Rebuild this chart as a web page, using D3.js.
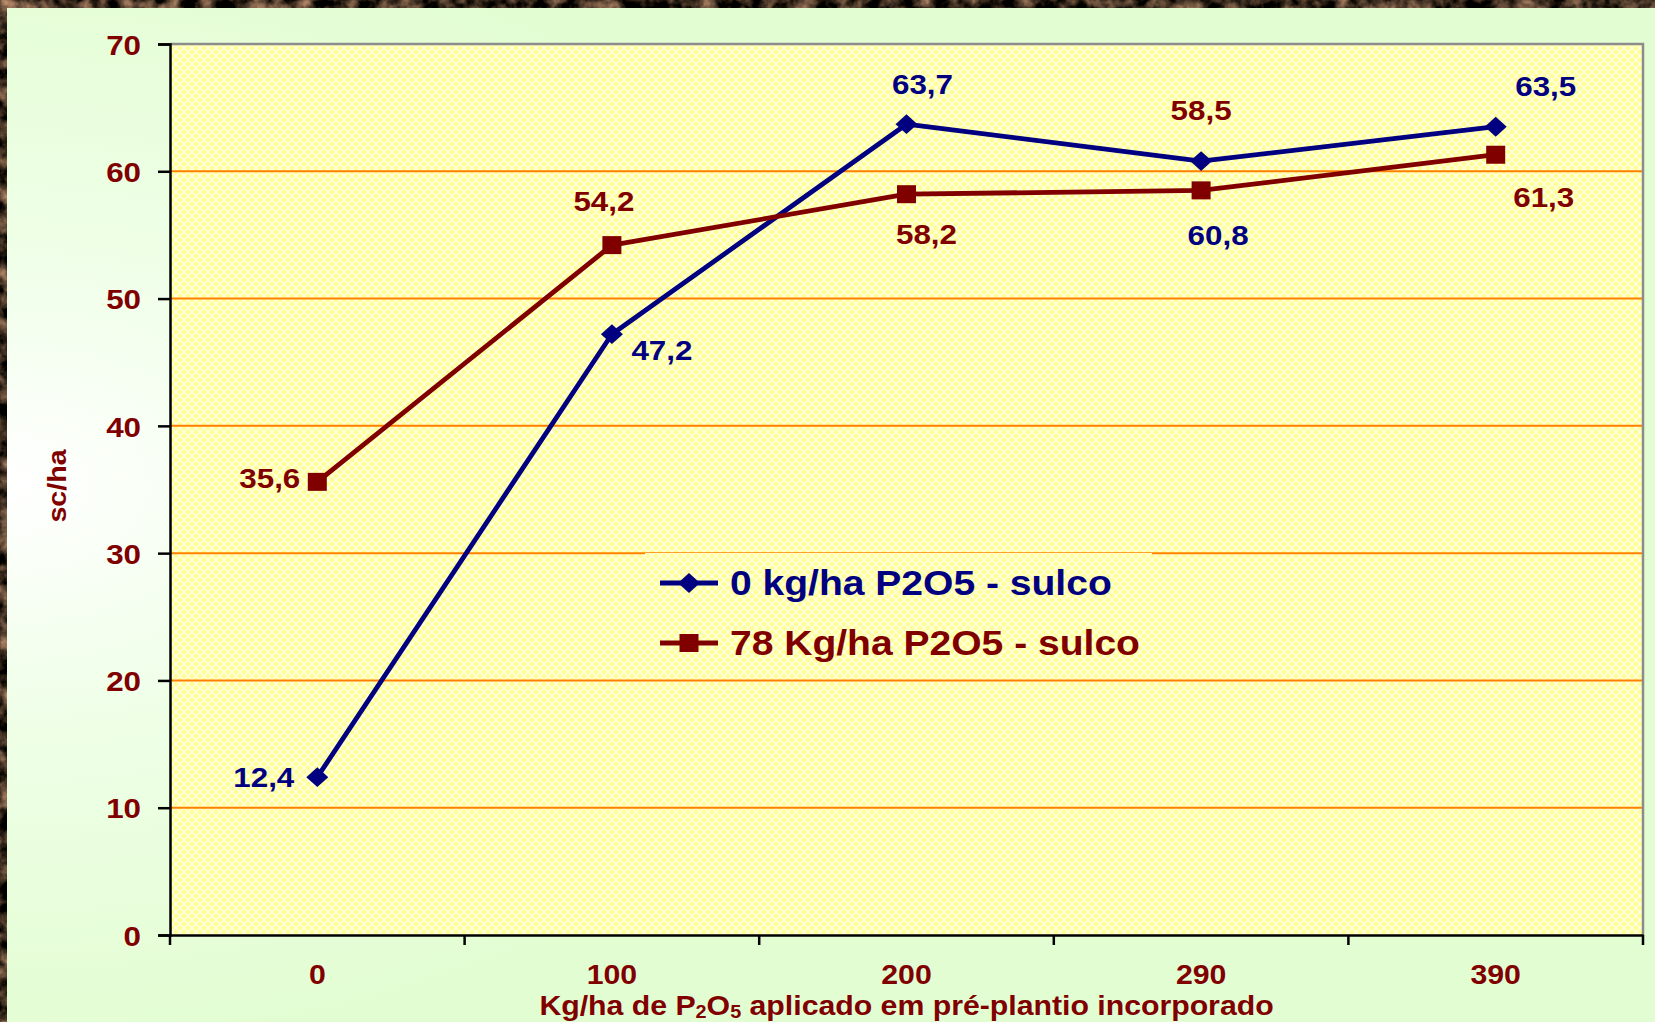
<!DOCTYPE html>
<html>
<head>
<meta charset="utf-8">
<script src="https://cdn.jsdelivr.net/npm/d3@7"></script>
<style>
  html, body { margin: 0; padding: 0; background: #3b2a1e; }
  svg { display: block; }
  text { font-family: "Liberation Sans", Arial, sans-serif; font-weight: bold; }
</style>
</head>
<body>
<svg width="1655" height="1022"></svg>
<script>
// data
const categories = ["0", "100", "200", "290", "390"];
const series0 = [12.4, 47.2, 63.7, 60.8, 63.5];   // 0 kg/ha P2O5 - sulco
const series78 = [35.6, 54.2, 58.2, 58.5, 61.3];  // 78 Kg/ha P2O5 - sulco
const seriesNames = ["0 kg/ha P2O5 - sulco", "78 Kg/ha P2O5 - sulco"];
const yTicks = [0, 10, 20, 30, 40, 50, 60, 70];

// where each value label sits relative to its point: [dx, dy, anchor]
const labelPos0 = [[-23, 10, "end"], [50, 26, "middle"], [16, -30, "middle"], [17, 84, "middle"], [50, -31, "middle"]];
const labelPos78 = [[-17, 6, "end"], [-8, -34, "middle"], [20, 50, "middle"], [0, -70, "middle"], [48, 52, "middle"]];

const blue = "#000080";
const red = "#800000";
const stretch = "scale(1.1,1)";

const svg = d3.select("svg");
const plotLeft = 170, plotRight = 1643, plotTop = 44, plotBottom = 935;

const x = d3.scaleBand().domain(categories).range([plotLeft, plotRight]);
const y = d3.scaleLinear().domain([0, 70]).range([plotBottom, plotTop]);
const cx = c => x(c) + x.bandwidth() / 2;

const defs = svg.append("defs");

// rocky brown frame
const rock = defs.append("filter").attr("id", "rock")
    .attr("x", 0).attr("y", 0).attr("width", 1).attr("height", 1)
    .attr("color-interpolation-filters", "sRGB");
rock.append("feTurbulence").attr("type", "fractalNoise").attr("baseFrequency", 0.06)
    .attr("numOctaves", 4).attr("seed", 5);
rock.append("feColorMatrix").attr("type", "matrix")
    .attr("values", "1.3 0 0 0 -0.42  1.0 0 0 0 -0.33  0.8 0 0 0 -0.28  0 0 0 0 1");

const grad = defs.append("radialGradient").attr("id", "panel")
    .attr("cx", 0).attr("cy", 0.47).attr("r", 0.55);
grad.append("stop").attr("offset", 0).attr("stop-color", "#ffffff");
grad.append("stop").attr("offset", 0.45).attr("stop-color", "#eeffe6");
grad.append("stop").attr("offset", 1).attr("stop-color", "#e3fdd3");

const pat = defs.append("pattern").attr("id", "lattice").attr("patternUnits", "userSpaceOnUse")
    .attr("width", 8).attr("height", 8);
pat.append("rect").attr("width", 8).attr("height", 8).attr("fill", "#ffff94");
pat.append("path").attr("d", "M0,0L8,8M8,0L0,8")
    .attr("stroke", "#ffffff").attr("stroke-width", 1.3).attr("stroke-opacity", 0.8);

svg.append("rect").attr("width", 1655).attr("height", 1022).attr("fill", "#000").attr("filter", "url(#rock)");
svg.append("rect").attr("x", 7).attr("y", 8).attr("width", 1648).attr("height", 1014).attr("fill", "url(#panel)");

// plot area
svg.append("rect").attr("x", plotLeft).attr("y", plotTop)
    .attr("width", plotRight - plotLeft).attr("height", plotBottom - plotTop)
    .attr("fill", "url(#lattice)");

svg.append("g").selectAll("line")
    .data(yTicks.filter(d => d > 0 && d < 70))
    .join("line")
    .attr("x1", plotLeft).attr("x2", plotRight)
    .attr("y1", d => y(d)).attr("y2", d => y(d))
    .attr("stroke", "#ff8000").attr("stroke-width", 2);

svg.append("path")
    .attr("d", `M${plotLeft},${plotTop}H${plotRight}V${plotBottom}`)
    .attr("fill", "none").attr("stroke", "#8c8c8c").attr("stroke-width", 2.5);

// legend box hides the grid behind it
const legendX = 645, legendY = 553;
svg.append("rect").attr("x", legendX).attr("y", legendY).attr("width", 507).attr("height", 123)
    .attr("fill", "url(#lattice)");

// axes
const yAxis = svg.append("g").attr("transform", `translate(${plotLeft},0)`)
    .call(d3.axisLeft(y).tickValues(yTicks).tickSize(12).tickFormat(d3.format("d")));
yAxis.select(".domain").attr("stroke", "#000").attr("stroke-width", 2.5);
yAxis.selectAll(".tick line").attr("stroke", "#000").attr("stroke-width", 2.5);
yAxis.selectAll(".tick text")
    .attr("x", 0).attr("dy", "0.36em")
    .attr("transform", `translate(-29,0) ${stretch}`)
    .attr("fill", red).style("font-size", "28.5px");

const xAxis = svg.append("g").attr("transform", `translate(0,${plotBottom})`)
    .call(d3.axisBottom(x).tickSize(0));
xAxis.select(".domain").attr("stroke", "#000").attr("stroke-width", 2.5);
xAxis.selectAll(".tick text")
    .attr("y", 0).attr("dy", 0)
    .attr("transform", `translate(0,49) ${stretch}`)
    .attr("fill", red).style("font-size", "27.5px");

const bounds = categories.map(c => x(c)).concat([plotRight]);
svg.append("g").selectAll("line").data(bounds).join("line")
    .attr("x1", d => d).attr("x2", d => d)
    .attr("y1", plotBottom).attr("y2", plotBottom + 10)
    .attr("stroke", "#000").attr("stroke-width", 2.5);

// axis titles
const xTitle = svg.append("text")
    .attr("transform", `translate(${(plotLeft + plotRight) / 2},1015) ${stretch}`)
    .attr("text-anchor", "middle").attr("fill", red).style("font-size", "27.5px");
xTitle.append("tspan").text("Kg/ha de P");
xTitle.append("tspan").text("2").attr("dy", 3).style("font-size", "18px");
xTitle.append("tspan").text("O").attr("dy", -3);
xTitle.append("tspan").text("5").attr("dy", 3).style("font-size", "18px");
xTitle.append("tspan").text(" aplicado em pré-plantio incorporado").attr("dy", -3);

svg.append("text")
    .attr("transform", `translate(66,486) rotate(-90) ${stretch}`)
    .attr("text-anchor", "middle").attr("fill", red).style("font-size", "26px")
    .text("sc/ha");

// markers
const diamond = (px, py, s) => `M${px - s},${py}L${px},${py - s * 0.9}L${px + s},${py}L${px},${py + s * 0.9}Z`;
const drawMarker = (g, kind, px, py, color) => {
  if (kind === "diamond") {
    g.append("path").attr("d", diamond(px, py, 11)).attr("fill", color);
  } else {
    g.append("rect").attr("x", px - 9.5).attr("y", py - 9).attr("width", 19).attr("height", 18).attr("fill", color);
  }
};

const line = d3.line().x((d, i) => cx(categories[i])).y(d => y(d));

const series = [
  { values: series0, color: blue, marker: "diamond", labels: labelPos0 },
  { values: series78, color: red, marker: "square", labels: labelPos78 }
];

series.forEach(s => {
  svg.append("path").datum(s.values).attr("d", line)
      .attr("fill", "none").attr("stroke", s.color).attr("stroke-width", 4.8)
      .attr("stroke-linejoin", "round");
});

series.forEach(s => {
  const g = svg.append("g");
  s.values.forEach((v, i) => drawMarker(g, s.marker, cx(categories[i]), y(v), s.color));
});

series.forEach(s => {
  svg.append("g").selectAll("text").data(s.values).join("text")
      .attr("transform", (d, i) => `translate(${cx(categories[i]) + s.labels[i][0]},${y(d) + s.labels[i][1]}) ${stretch}`)
      .attr("text-anchor", (d, i) => s.labels[i][2])
      .attr("fill", s.color).style("font-size", "28.5px")
      .text(d => d3.format(".1f")(d).replace(".", ","));
});

// legend
series.forEach((s, i) => {
  const ly = 583 + i * 60;
  const g = svg.append("g");
  g.append("line").attr("x1", 660).attr("x2", 718).attr("y1", ly).attr("y2", ly)
      .attr("stroke", s.color).attr("stroke-width", 4.8);
  drawMarker(g, s.marker, 689, ly, s.color);
  g.append("text")
      .attr("transform", `translate(730,${ly + 12}) ${stretch}`)
      .attr("fill", s.color).style("font-size", "35.5px")
      .text(seriesNames[i]);
});
</script>
</body>
</html>
